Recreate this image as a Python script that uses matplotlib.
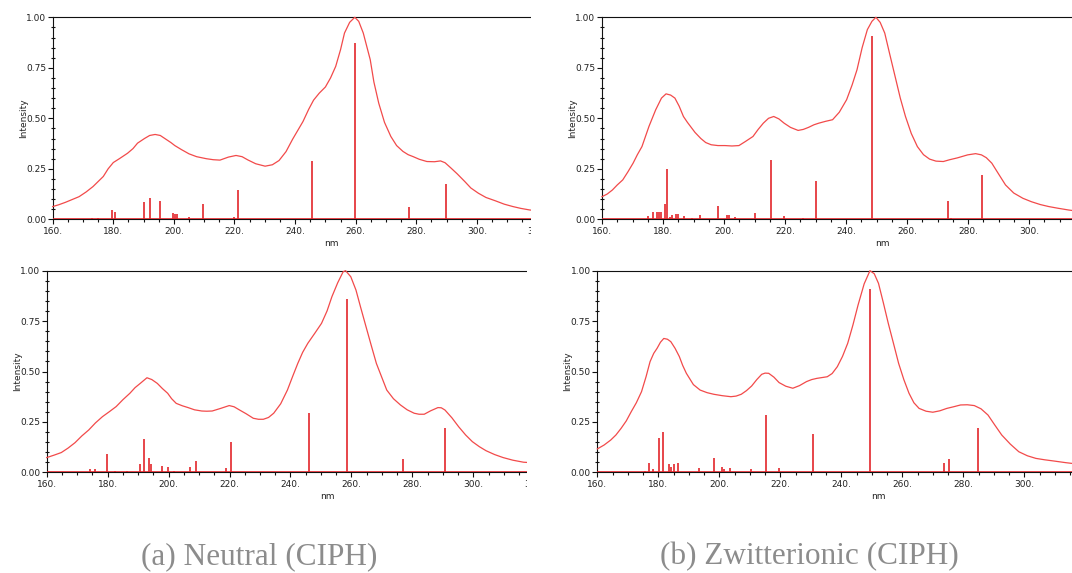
import matplotlib
matplotlib.use("Agg")
import matplotlib.pyplot as plt
from matplotlib.ticker import MultipleLocator, FuncFormatter
from matplotlib.patches import Rectangle

# ---------------- data ----------------
# (a) Neutral, top panel: broadened spectrum (nm, intensity) and stick transitions
tl_curve = [(160, 0.063), (162, 0.072), (164.2, 0.084), (168.7, 0.112), (171, 0.135), (173.3, 0.162),
            (176.7, 0.212), (178.3, 0.25), (180, 0.281), (182, 0.30), (184.7, 0.327), (186.5, 0.35),
            (188, 0.377), (190.3, 0.40), (192, 0.415), (193.8, 0.42), (195.5, 0.415), (197, 0.40),
            (199, 0.38), (200.3, 0.365), (202.5, 0.345), (205, 0.324), (207.5, 0.31), (210.7, 0.30),
            (213, 0.295), (215.2, 0.293), (218, 0.308), (220.5, 0.316), (222.5, 0.31), (224.4, 0.294),
            (227, 0.275), (230.1, 0.263), (232.5, 0.27), (234.7, 0.291), (237, 0.335), (239.2, 0.397),
            (242.6, 0.484), (244.5, 0.545), (246.1, 0.59), (248, 0.625), (250, 0.655), (251.7, 0.70),
            (253.4, 0.757), (255, 0.84), (256.3, 0.922), (258, 0.975), (259.7, 1.0), (261, 0.98),
            (262.5, 0.922), (264.8, 0.79), (266, 0.68), (267.6, 0.575), (269.5, 0.48), (271.6, 0.41),
            (273.5, 0.365), (275.6, 0.336), (277.3, 0.32), (279, 0.31), (281, 0.297), (283.5, 0.286),
            (286, 0.285), (288, 0.289), (289.5, 0.28), (291.5, 0.253), (293.5, 0.225), (296, 0.187),
            (298, 0.155), (300.5, 0.129), (303, 0.108), (306.2, 0.091), (309, 0.075), (311.9, 0.063),
            (314.5, 0.054), (317.5, 0.046), (322, 0.040)]
tl_stick_x = [173, 175, 176.5, 179.5, 180.6, 184, 190, 192, 195.5, 199.6, 200.2, 201, 205, 209.5,
              219.8, 221.2, 245.5, 259.8, 277.5, 289.7]
tl_stick_y = [0.004, 0.004, 0.003, 0.046, 0.038, 0.003, 0.084, 0.104, 0.093, 0.030, 0.028, 0.026, 0.013,
              0.076, 0.010, 0.145, 0.291, 0.873, 0.063, 0.177]

# (b) Zwitterionic, top panel
tr_curve = [(160, 0.112), (161.7, 0.125), (163.4, 0.145), (165, 0.17), (166.8, 0.195), (168.5, 0.235),
            (170.2, 0.278), (171.6, 0.32), (173.1, 0.36), (175.4, 0.46), (177.6, 0.542), (179.5, 0.60),
            (181, 0.621), (182.5, 0.615), (183.9, 0.60), (185.3, 0.56), (186.7, 0.509), (188, 0.48),
            (189, 0.46), (190.5, 0.43), (192.4, 0.40), (194, 0.38), (195.8, 0.369), (198, 0.365),
            (200.3, 0.365), (202.6, 0.363), (204.9, 0.365), (207, 0.385), (209.5, 0.41), (211.2, 0.445),
            (212.9, 0.476), (214.6, 0.50), (216.3, 0.509), (218, 0.497), (219.7, 0.476), (221.8, 0.455),
            (224.3, 0.44), (226, 0.445), (227.7, 0.455), (229.5, 0.468), (231.1, 0.476), (233.3, 0.485),
            (235.6, 0.493), (237.8, 0.53), (240.2, 0.592), (242, 0.665), (243.6, 0.74), (245.3, 0.85),
            (247, 0.939), (248.5, 0.98), (249.8, 1.0), (251.2, 0.975), (252.7, 0.922), (254.3, 0.82),
            (256.1, 0.707), (257.8, 0.60), (259.5, 0.509), (261.4, 0.425), (263.4, 0.36), (265.4, 0.32),
            (267.4, 0.298), (269.5, 0.288), (271.9, 0.286), (274, 0.295), (276.5, 0.304), (279.9, 0.319),
            (282.5, 0.325), (284.4, 0.319), (286, 0.305), (287.8, 0.278), (290, 0.225), (292.3, 0.17),
            (295, 0.13), (298, 0.104), (300.8, 0.087), (303.7, 0.073), (306.5, 0.063), (309.4, 0.055),
            (313, 0.046), (317, 0.038)]
tr_stick_x = [175, 176.8, 178, 178.8, 179.5, 180.8, 181.3, 182.3, 183, 184.3, 185, 186.8, 189.5, 192,
              198, 201, 201.5, 203.5, 210, 215.3, 219.8, 226, 230.3, 248.5, 273.5, 274.5, 284.5]
tr_stick_y = [0.017, 0.035, 0.038, 0.038, 0.038, 0.076, 0.25, 0.010, 0.021, 0.026, 0.026, 0.017, 0.005,
              0.023, 0.068, 0.023, 0.023, 0.010, 0.030, 0.296, 0.017, 0.005, 0.192, 0.906, 0.093, 0.005,
              0.217]

# (a) Neutral, bottom panel
bl_curve = [(160, 0.073), (162.4, 0.085), (164.8, 0.098), (167, 0.12), (169.3, 0.147), (171.5, 0.18),
            (173.8, 0.21), (176, 0.245), (178.3, 0.276), (180.5, 0.30), (182.8, 0.326), (185, 0.36),
            (187.3, 0.392), (189, 0.42), (190.7, 0.441), (192.9, 0.469), (194.5, 0.46), (196.3, 0.441),
            (198, 0.415), (199.7, 0.392), (201, 0.365), (202.5, 0.342), (204.5, 0.33), (206.4, 0.321),
            (208.5, 0.31), (210.9, 0.304), (212.5, 0.303), (214.3, 0.304), (217.1, 0.317), (219.9, 0.331),
            (221.5, 0.325), (223.3, 0.309), (225.5, 0.29), (227.8, 0.268), (229.5, 0.263), (231.1, 0.263),
            (232.8, 0.272), (234.5, 0.293), (236.8, 0.34), (239, 0.408), (240.7, 0.475), (242.4, 0.54),
            (244, 0.595), (245.7, 0.64), (248, 0.69), (250.2, 0.739), (252, 0.80), (253.6, 0.871),
            (255.5, 0.94), (257.3, 0.995), (258.1, 1.0), (259.8, 0.97), (261.5, 0.904), (263, 0.82),
            (264.8, 0.722), (266.5, 0.63), (268.2, 0.54), (270, 0.47), (271.6, 0.408), (273.8, 0.365),
            (276.1, 0.334), (278.3, 0.31), (280.6, 0.293), (282.2, 0.288), (283.9, 0.288), (286, 0.305),
            (288.4, 0.321), (289.5, 0.32), (290.7, 0.309), (293, 0.27), (295.2, 0.226), (297.5, 0.185),
            (299.7, 0.152), (302, 0.127), (304.2, 0.107), (307, 0.088), (309.8, 0.073), (313, 0.06),
            (316.5, 0.050), (322, 0.045)]
bl_stick_x = [174.2, 175.8, 179.7, 182.5, 186.5, 190.7, 192, 193.5, 194.3, 198, 199.8, 201.7, 207, 209,
              219, 220.5, 246, 248, 258.5, 276.8, 290.8]
bl_stick_y = [0.015, 0.015, 0.089, 0.008, 0.008, 0.040, 0.164, 0.071, 0.040, 0.033, 0.025, 0.008, 0.025,
              0.056, 0.021, 0.152, 0.293, 0.003, 0.858, 0.064, 0.221]

# (b) Zwitterionic, bottom panel
br_curve = [(160, 0.116), (162.2, 0.135), (164.4, 0.16), (166.1, 0.185), (167.8, 0.218), (169.5, 0.255),
            (171.1, 0.30), (172.8, 0.345), (174.5, 0.40), (176, 0.475), (177.3, 0.549), (178.5, 0.59),
            (179.6, 0.615), (180.7, 0.645), (181.8, 0.664), (183, 0.66), (184.1, 0.648), (185.5, 0.615),
            (186.9, 0.574), (188, 0.53), (189.2, 0.491), (191.5, 0.435), (193.7, 0.408), (196, 0.395),
            (198.2, 0.387), (201, 0.38), (203.8, 0.375), (205.5, 0.378), (207.2, 0.387), (208.9, 0.405),
            (210.6, 0.428), (212.3, 0.46), (213.9, 0.486), (215, 0.492), (216.2, 0.491), (217.9, 0.472),
            (219.6, 0.445), (221.8, 0.427), (224.1, 0.417), (226.3, 0.43), (228.6, 0.45), (230.3, 0.46),
            (232, 0.466), (233.7, 0.47), (235.4, 0.474), (237, 0.49), (238.7, 0.524), (240.4, 0.575),
            (242.1, 0.64), (243.8, 0.73), (245.5, 0.83), (247.5, 0.935), (249.4, 1.0), (250.8, 0.985),
            (252.2, 0.937), (253.8, 0.84), (255.4, 0.739), (257.1, 0.64), (258.8, 0.54), (260.5, 0.46),
            (262.2, 0.392), (263.8, 0.345), (265.5, 0.317), (267.8, 0.303), (270, 0.298), (272.3, 0.305),
            (274.6, 0.317), (276.8, 0.325), (279.1, 0.334), (281.3, 0.335), (283.6, 0.331), (285.8, 0.315),
            (288.1, 0.284), (290.3, 0.235), (292.6, 0.185), (295.4, 0.14), (298.2, 0.102), (301, 0.082),
            (303.8, 0.069), (306.7, 0.062), (309.7, 0.056), (313.5, 0.048), (317.3, 0.041)]
br_stick_x = [175.5, 176.8, 178.3, 180.3, 181.7, 183.5, 184, 185.2, 186.3, 193.3, 198.2, 201, 201.5,
              203.5, 210.3, 215.2, 219.5, 230.7, 249.3, 273.6, 275.2, 284.9]
br_stick_y = [0.008, 0.048, 0.017, 0.17, 0.20, 0.040, 0.025, 0.040, 0.045, 0.020, 0.073, 0.028, 0.015,
              0.020, 0.015, 0.283, 0.020, 0.19, 0.909, 0.045, 0.066, 0.218]

captions = ["(a) Neutral (CIPH)", "(b) Zwitterionic (CIPH)"]
x_label = "nm"
y_label = "Intensity"

# ---------------- layout ----------------
W, H = 1072, 573
XMIN = 160
CURVE = "#f24a4a"
STICK = "#e3262b"
TXT = "#222222"

fig = plt.figure(figsize=(W / 100, H / 100), dpi=100)


def add_panel(left, top, bottom, scale, xmax):
    width = (xmax - XMIN) * scale
    ax = fig.add_axes([left / W, (H - bottom) / H, width / W, (bottom - top) / H])
    ax.set_xlim(XMIN, xmax)
    return ax, width, bottom - top, xmax


panels = [
    (add_panel(52.7, 17.3, 219.3, 3.03, 322.0), tl_curve, tl_stick_x, tl_stick_y),
    (add_panel(602.0, 17.3, 219.3, 3.05, 314.1), tr_curve, tr_stick_x, tr_stick_y),
    (add_panel(46.7, 270.7, 472.3, 3.047, 322.0), bl_curve, bl_stick_x, bl_stick_y),
    (add_panel(597.3, 270.7, 472.3, 3.05, 315.6), br_curve, br_stick_x, br_stick_y),
]

for (ax, wpx, hpx, xmax), curve, sx, sy in panels:
    cx = [p[0] for p in curve]
    cy = [p[1] for p in curve]
    ax.set_ylim(0, 1)
    # not clipped so the peak at 1.0 is drawn in full on the top frame line
    ax.plot(cx, cy, color=CURVE, lw=0.9, zorder=3, clip_on=False)
    ax.vlines(sx, 0, sy, color=STICK, lw=1.2, zorder=4)
    ax.axhline(0, color=STICK, lw=1.2, zorder=5)

    ax.spines["right"].set_visible(False)
    for s in ("top", "left", "bottom"):
        ax.spines[s].set_color("#111111")
        ax.spines[s].set_linewidth(0.8)
        ax.spines[s].set_zorder(2)

    ax.xaxis.set_major_locator(MultipleLocator(20))
    ax.xaxis.set_minor_locator(MultipleLocator(5))
    ax.yaxis.set_major_locator(MultipleLocator(0.25))
    ax.yaxis.set_minor_locator(MultipleLocator(0.05))
    ax.xaxis.set_major_formatter(FuncFormatter(lambda v, p: f"{v:.0f}."))
    ax.yaxis.set_major_formatter(FuncFormatter(lambda v, p: f"{v:.2f}"))

    ax.tick_params(axis="x", which="major", direction="out", length=3.5, width=0.8,
                   labelsize=6.5, pad=2, colors="#111111", labelcolor=TXT)
    ax.tick_params(axis="x", which="minor", direction="out", length=2, width=0.8, colors="#111111")
    ax.tick_params(axis="y", which="major", direction="out", length=3.5, width=0.8,
                   labelsize=6.5, pad=1.2, colors="#111111", labelcolor=TXT)
    ax.tick_params(axis="y", which="minor", direction="inout", length=2.5, width=0.8, colors="#111111")
    ax.tick_params(top=False, right=False, which="both")

    ax.set_xlabel(x_label, fontsize=6.5, color=TXT)
    ax.xaxis.set_label_coords((252 - XMIN) / (xmax - XMIN), -19.5 / hpx)
    ax.set_ylabel(y_label, fontsize=6.5, color=TXT)
    ax.yaxis.set_label_coords(-25 / wpx, 0.5)

# white masks that crop the left-hand panels on the right, as in the reference
fig.add_artist(Rectangle((531 / W, (H - 262) / H), 29 / W, 262 / H, transform=fig.transFigure,
                         facecolor="white", edgecolor="none", zorder=10))
fig.add_artist(Rectangle((527.3 / W, (H - 515) / H), 32 / W, 253 / H, transform=fig.transFigure,
                         facecolor="white", edgecolor="none", zorder=10))

fig.text(259 / W, 1 - 557 / H, captions[0], ha="center", va="center",
         family="Liberation Serif", size=22.5, color="#8c8c8c")
fig.text(809 / W, 1 - 557 / H, captions[1], ha="center", va="center",
         family="Liberation Serif", size=22.5, color="#8c8c8c")

fig.savefig("out.png", dpi=100)
